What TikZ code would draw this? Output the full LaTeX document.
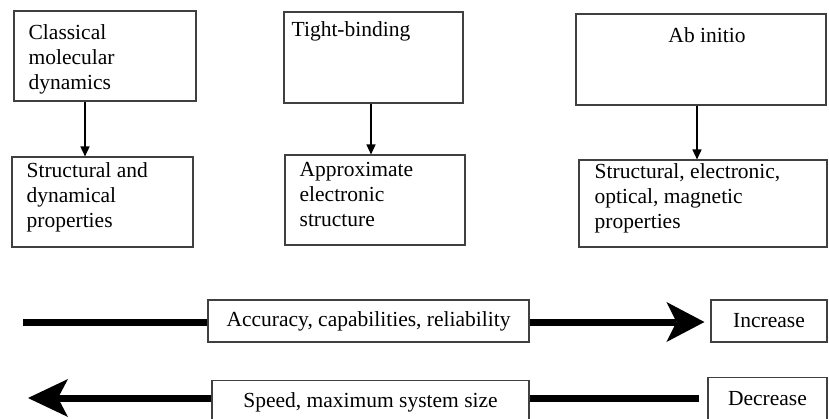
\documentclass[tikz,border=0pt]{standalone}
\usepackage{fontspec}
\setmainfont{Liberation Serif}
\usetikzlibrary{arrows.meta}

\begin{document}
\begin{tikzpicture}[x=1pt,y=-1pt]
      \useasboundingbox (0,0) rectangle (829,418);

      \begin{scope}[every node/.style={rectangle,draw=black!75,line width=1.1pt,inner sep=0pt}]
        \node[minimum width=182pt,minimum height=90pt] (m1) at (105,56)    {};
        \node[minimum width=181pt,minimum height=90pt] (r1) at (102.5,202) {};
        \node[minimum width=179pt,minimum height=91pt] (m2) at (373.5,57.5) {};
        \node[minimum width=180pt,minimum height=90pt] (r2) at (375,200)   {};
        \node[minimum width=250pt,minimum height=91pt] (m3) at (701,59.5)  {};
        \node[minimum width=248pt,minimum height=87pt] (r3) at (703,203.5) {};
      \end{scope}

      \begin{scope}[every node/.style={inner sep=0pt,align=left,anchor=north west,
          font=\fontsize{21.5}{25}\selectfont}]
        \node (m1t) at ([xshift=15pt,yshift=-14pt]m1.north west) {Classical\\molecular\\dynamics};
        \node (r1t) at ([xshift=15pt,yshift=-6pt]r1.north west)  {Structural and\\dynamical\\properties};
        \node (m2t) at ([xshift=8pt,yshift=-10pt]m2.north west)  {Tight-binding};
        \node (r2t) at ([xshift=15pt,yshift=-8pt]r2.north west)  {Approximate\\electronic\\structure};
        \node[anchor=north] (m3t) at ([xshift=6pt,yshift=-14pt]m3.north) {Ab initio};
        \node (r3t) at ([xshift=16pt,yshift=-3.5pt]r3.north west) {Structural, electronic,\\optical, magnetic\\properties};
      \end{scope}

      \begin{scope}[every node/.style={rectangle,draw=black!75,line width=1.1pt,
          font=\fontsize{21.5}{25}\selectfont}]
        \node[minimum width=321pt,minimum height=42pt] (acc) at (368.5,321) {Accuracy, capabilities, reliability};
        \node[minimum width=116pt,minimum height=42pt] (inc) at (769,321)   {Increase};
        \node[minimum width=317pt,minimum height=43pt] (spd) at (370.5,402) {Speed, maximum system size};
        \node[minimum width=119pt,minimum height=43pt] (dec) at (767.5,399) {Decrease};
      \end{scope}

      \coordinate (l1) at (23,322);
      \coordinate (l2) at (28,398);

      \begin{scope}[every path/.style={line width=1.5pt,-{Triangle[length=10pt,width=9pt]}}]
        \draw ([xshift=-20pt]m1.south) -- ([xshift=-17.5pt]r1.north);
        \draw ([xshift=-2.5pt]m2.south) -- ([xshift=-4pt]r2.north);
        \draw ([xshift=-4pt]m3.south)   -- ([xshift=-6pt]r3.north);
      \end{scope}

      \begin{scope}[line width=7pt]
        \draw (l1) -- (acc.west |- l1);
        \draw[-{Stealth[length=38pt,width=40pt,inset=10pt,line width=0pt]},shorten >=6pt] (acc.east |- l1) -- (inc.west |- l1);
        \draw[shorten <=8pt] (dec.west |- l2) -- (spd.east |- l2);
        \draw[-{Stealth[length=40pt,width=38pt,inset=10pt,line width=0pt]}] (spd.west |- l2) -- (l2);
      \end{scope}

    \end{tikzpicture}
\end{document}
